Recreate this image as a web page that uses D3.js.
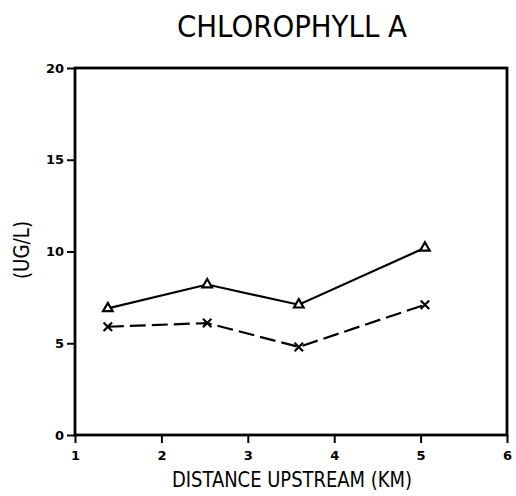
<!DOCTYPE html>
<html><head><meta charset="utf-8">
<script src="https://cdn.jsdelivr.net/npm/d3@7"></script>
<style>body{margin:0;background:#fff}</style>
</head><body><div id="chart"></div>
<script>
const distance = [1.38, 2.53, 3.59, 5.05];
const seriesTriangle = [6.9, 8.2, 7.1, 10.2];
const seriesCross = [5.9, 6.1, 4.8, 7.1];
const xTicks = [1, 2, 3, 4, 5, 6];
const yTicks = [0, 5, 10, 15, 20];
const chartTitle = "CHLOROPHYLL A";
const xTitle = "DISTANCE UPSTREAM (KM)";
const yTitle = "(UG/L)";

const W = 516, H = 496;
const m = {left: 75, right: 9, top: 68, bottom: 61};
const svg = d3.select("#chart").append("svg").attr("width", W).attr("height", H);
const x = d3.scaleLinear().domain([1, 6]).range([m.left, W - m.right]);
const y = d3.scaleLinear().domain([0, 20]).range([H - m.bottom, m.top]);
const font = "'DejaVu Sans', sans-serif";
const thin = "'Liberation Sans Narrow', 'DejaVu Sans Condensed', sans-serif";

// frame
svg.append("rect").attr("x", x(1)).attr("y", y(20)).attr("width", x(6) - x(1)).attr("height", y(0) - y(20))
  .attr("fill", "none").attr("stroke", "#000").attr("stroke-width", 2.8);

const xAxis = svg.append("g").attr("transform", `translate(0,${y(0)})`)
  .call(d3.axisBottom(x).tickValues(xTicks).tickFormat(d3.format("d")).tickSize(8).tickPadding(8));
const yAxis = svg.append("g").attr("transform", `translate(${x(1)},0)`)
  .call(d3.axisLeft(y).tickValues(yTicks).tickFormat(d3.format("d")).tickSize(8).tickPadding(3));
[xAxis, yAxis].forEach(a => {
  a.select(".domain").remove();
  a.selectAll("line").attr("stroke", "#000").attr("stroke-width", 2);
  a.selectAll("text").attr("font-family", font).attr("font-size", 13).attr("font-weight", "bold").attr("fill", "#000");
});

const line = d3.line().x((d, i) => x(distance[i])).y(d => y(d));
svg.append("path").datum(seriesTriangle).attr("d", line).attr("fill", "none")
  .attr("stroke", "#000").attr("stroke-width", 2.2);
svg.append("path").datum(seriesCross).attr("d", line).attr("fill", "none")
  .attr("stroke", "#000").attr("stroke-width", 2.2).attr("stroke-dasharray", "16,6");

svg.selectAll(".tri").data(seriesTriangle).enter().append("path")
  .attr("transform", (d, i) => `translate(${x(distance[i])},${y(d)})`)
  .attr("d", d3.symbol().type(d3.symbolTriangle).size(40))
  .attr("fill", "#fff").attr("stroke", "#000").attr("stroke-width", 2.2);
const crossSym = {draw: (ctx) => {ctx.moveTo(-6, 0); ctx.lineTo(6, 0); ctx.moveTo(0, -6); ctx.lineTo(0, 6);}};
svg.selectAll(".crs").data(seriesCross).enter().append("path")
  .attr("transform", (d, i) => `translate(${x(distance[i])},${y(d)}) rotate(45)`)
  .attr("d", d3.symbol().type(crossSym))
  .attr("fill", "none").attr("stroke", "#000").attr("stroke-width", 2.2);

svg.append("text").attr("x", 292).attr("y", 37).attr("text-anchor", "middle")
  .attr("font-family", thin).attr("font-size", 31)
  .attr("textLength", 230).attr("lengthAdjust", "spacingAndGlyphs").text(chartTitle);
svg.append("text").attr("x", 292).attr("y", 487).attr("text-anchor", "middle")
  .attr("font-family", thin).attr("font-size", 21)
  .attr("textLength", 240).attr("lengthAdjust", "spacingAndGlyphs").text(xTitle);
svg.append("text").attr("transform", "translate(29,250) rotate(-90)").attr("text-anchor", "middle")
  .attr("font-family", thin).attr("font-size", 21)
  .attr("textLength", 58).attr("lengthAdjust", "spacingAndGlyphs").text(yTitle);
</script></body></html>
